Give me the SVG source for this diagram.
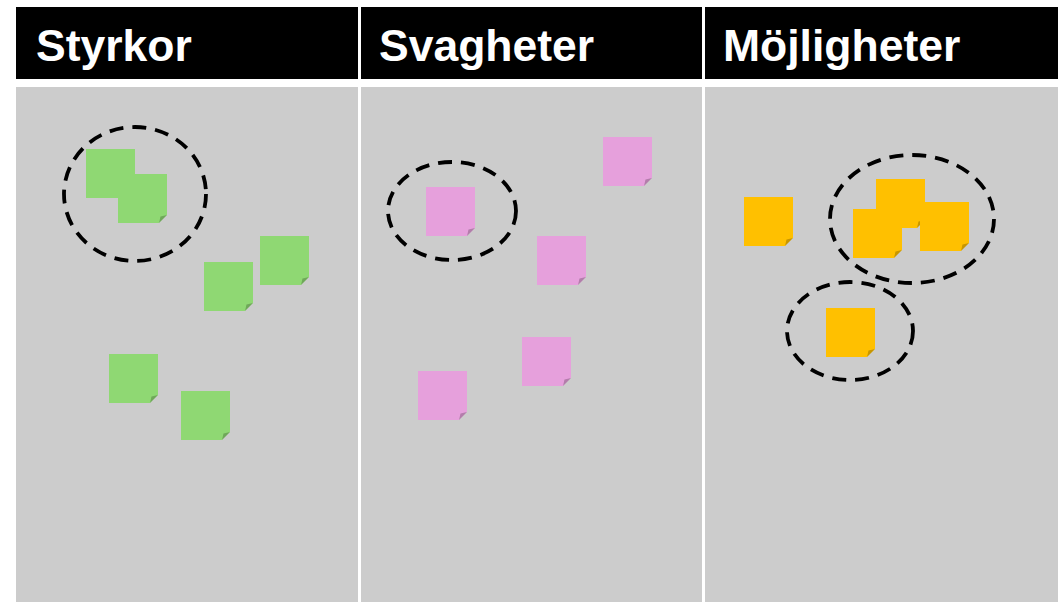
<svg xmlns="http://www.w3.org/2000/svg" xmlns:xlink="http://www.w3.org/1999/xlink" width="1061" height="602" viewBox="0 0 1061 602">
<style>
.hdr{fill:#000}
.body{fill:#cccccc}
.title{font-family:"Liberation Sans",Arial,sans-serif;font-weight:bold;font-size:44.5px;fill:#fff}
.g use{fill:#8fd873}
.p use{fill:#e6a0dc}
.o use{fill:#ffc000}
.ring{fill:none;stroke:#000;stroke-width:3.8;stroke-dasharray:14 9}
</style>
<defs>
<g id="note">
<path d="M0,0H49V41L41,49H0Z"/>
<path d="M49,41L41,49L42.5,42.5Z" fill="#000" fill-opacity="0.22"/>
</g>
</defs>
<rect width="1061" height="602" fill="#fff"/>
<g id="headers">
<rect class="hdr" x="16" y="7" width="342" height="72"/>
<rect class="hdr" x="361" y="7" width="341" height="72"/>
<rect class="hdr" x="705" y="7" width="353" height="72"/>
<text class="title" x="36" y="61">Styrkor</text>
<text class="title" x="379" y="61">Svagheter</text>
<text class="title" x="723" y="61">Möjligheter</text>
</g>
<g id="columns">
<rect class="body" x="16" y="87" width="342" height="515"/>
<rect class="body" x="361" y="87" width="341" height="515"/>
<rect class="body" x="705" y="87" width="353" height="515"/>
</g>
<g id="styrkor" class="g">
<use id="g1" xlink:href="#note" x="86" y="149"/>
<use id="g2" xlink:href="#note" x="118" y="174"/>
<use id="g3" xlink:href="#note" x="204" y="262"/>
<use id="g4" xlink:href="#note" x="260" y="236"/>
<use id="g5" xlink:href="#note" x="109" y="354"/>
<use id="g6" xlink:href="#note" x="181" y="391"/>
</g>
<g id="svagheter" class="p">
<use id="p1" xlink:href="#note" x="426" y="187"/>
<use id="p2" xlink:href="#note" x="603" y="137"/>
<use id="p3" xlink:href="#note" x="537" y="236"/>
<use id="p4" xlink:href="#note" x="522" y="337"/>
<use id="p5" xlink:href="#note" x="418" y="371"/>
</g>
<g id="mojligheter" class="o">
<use id="o1" xlink:href="#note" x="744" y="197"/>
<use id="o2" xlink:href="#note" x="876" y="179"/>
<use id="o3" xlink:href="#note" x="853" y="209"/>
<use id="o4" xlink:href="#note" x="920" y="202"/>
<use id="o5" xlink:href="#note" x="826" y="308"/>
</g>
<g id="groupings">
<ellipse class="ring" cx="135" cy="194" rx="71" ry="67"/>
<ellipse class="ring" cx="452" cy="211" rx="64" ry="49"/>
<ellipse class="ring" cx="912" cy="219" rx="82" ry="64"/>
<ellipse class="ring" cx="850" cy="331" rx="63" ry="49"/>
</g>
</svg>
